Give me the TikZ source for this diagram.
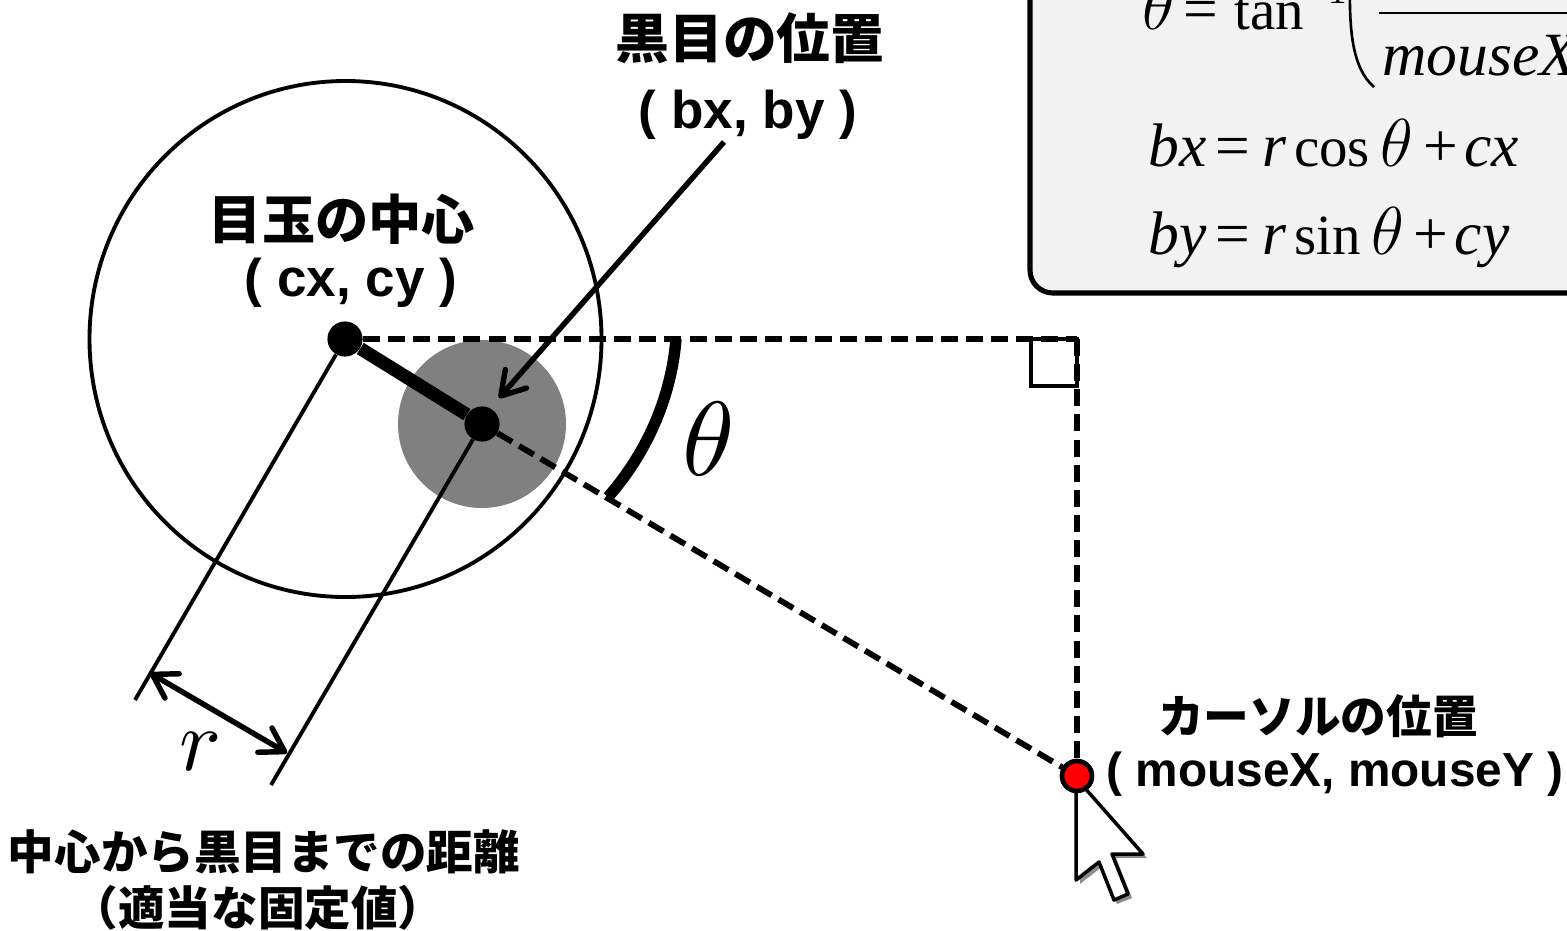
\documentclass[tikz,border=0pt]{standalone}
\usepackage{fontspec}
\setmainfont{Liberation Sans}
\newfontfamily\jpfont{Noto Sans CJK JP}
\newfontfamily\fmfont{Liberation Serif}
\usepackage{xcolor}
\usetikzlibrary{arrows.meta}
\definecolor{boxgray}{HTML}{F2F2F2}
\definecolor{ballgray}{HTML}{808080}
\newcommand{\fv}[1]{\textit{#1}}
\newcommand{\fn}[1]{{\fontsize{32.4pt}{32.4pt}\selectfont #1}}
\newcommand{\ft}{\scalebox{1.55}{$\theta$}}
\tikzset{
  dotmark/.style={circle,fill=black,minimum size=20pt,inner sep=0pt},
  redmark/.style={circle,draw=black,fill=red,line width=2.6pt,minimum size=17pt,inner sep=0pt},
  dashline/.style={line width=3.3pt,dash pattern=on 9.7pt off 4.6pt},
  thinline/.style={line width=2.2pt},
  jplabel/.style={inner sep=0pt,font={\jpfont\bfseries\fontsize{#1}{#1}\selectfont}},
  enlabel/.style={inner sep=0pt,font={\bfseries\fontsize{#1}{#1}\selectfont}},
  formula/.style={inner sep=0pt,anchor=base west,font={\fmfont\fontsize{35pt}{35pt}\selectfont}},
  barb/.style={line width=3.1pt,line cap=round,{Straight Barb[round,length=13pt,width=16pt]}-{Straight Barb[round,length=13pt,width=16pt]}}
}
\begin{document}
\begin{tikzpicture}[x=0.02cm,y=-0.02cm]
  \useasboundingbox (0,0) rectangle (1567,930);
  \clip (0,0) rectangle (1567,930);
  % formula box
  \draw[fill=boxgray,line width=2.9pt,rounded corners=13pt] (1030,-80) rectangle (1640,293);
  \node[formula] (tanline) at (1142,29) {\ft\kern5pt=\kern9pt\fn{tan}};
  \node[formula,font={\fmfont\fontsize{21pt}{21pt}\selectfont}] (tanexp) at (1307,3) {−1};
  \draw[line width=1.5pt] (1350,-20) .. controls (1349,30) and (1352,68) .. (1374,87);
  \draw[line width=1.5pt] (1379,13) -- (1600,13);
  \node[formula] (denom) at (1382,75) {\fv{mouseX}};
  \node[formula] (bxline) at (1148,166) {\fv{bx}\kern5pt=\kern7.4pt\fv{r}\kern4pt\fn{cos}\kern6pt\ft\kern5.8pt+\kern3.6pt\fv{cx}};
  \node[formula] (byline) at (1148,254) {\fv{by}\kern5pt=\kern7.4pt\fv{r}\kern4pt\fn{sin}\kern6pt\ft\kern5.8pt+\kern3.6pt\fv{cy}};
  % eye
  \draw[thinline] (345.5,339) ellipse [x radius=256,y radius=258];
  \fill[ballgray] (482,424) circle (84);
  \node[dotmark] (centre) at (345,339) {};
  \node[dotmark] (black) at (482,424) {};
  \node[redmark] (mouse) at (1077,776) {};
  \coordinate (corner) at (1077,339);
  % lines
  \draw[line width=7.5pt] (centre) -- (black);
  \draw[dashline] (centre) -- (corner);
  \draw[dashline] (corner) -- (mouse);
  \draw[dashline] (black) -- (mouse);
  \draw[line width=2pt] (1031,339) rectangle (1077,386);
  \draw[line width=6.5pt] (676,339) .. controls (671,400) and (645,455) .. (608,497);
  \node[scale=6] (thetalabel) at (709,439) {$\theta$};
  % r
  \coordinate (rleft) at (135,700);
  \coordinate (rright) at (271,785);
  \coordinate (rstart) at (150,673);
  \coordinate (rend) at (287,753);
  \draw[thinline] (centre) -- (rleft);
  \draw[thinline] (black) -- (rright);
  \draw[barb] (rstart) -- (rend);
  \node[scale=5] (rlabel) at (201,752) {$r$};
  % black eye arrow
  \coordinate (bxstart) at (724,142);
  \coordinate (bxend) at (499,398);
  \draw[line width=3.1pt,-{Straight Barb[round,length=13pt,width=16pt]}] (bxstart) -- (bxend);
  % cursor
  \fill[black!45] (1080,781) -- (1080,884) -- (1103,866) -- (1117,904) -- (1132,898) -- (1116,858) -- (1147,858) -- cycle;
  \draw[fill=white,line width=2pt,line join=round] (1076,778) -- (1076,880) -- (1099,862) -- (1114,900) -- (1128,894) -- (1112,854) -- (1143,854) -- cycle;
  \node[redmark] (mousetop) at (mouse) {};
  % labels
  \node[jplabel=30.6pt] (blackjp) at (750,38) {黒目の位置};
  \node[enlabel=30.2pt] (blacken) at (748,115) {( bx, by )};
  \node[jplabel=30.3pt] (centrejp) at (342,219) {目玉の中心};
  \node[enlabel=30.2pt] (centreen) at (351,283) {( cx, cy )};
  \node[jplabel=26pt] (mousejp) at (1318,716) {カーソルの位置};
  \node[enlabel=27.2pt] (mouseen) at (1335,774) {( mouseX, mouseY )};
  \node[jplabel=26.5pt] (distjp) at (264,852) {中心から黒目までの距離};
  \node[jplabel=26.5pt] (fixjp) at (258,908) {（適当な固定値）};
\end{tikzpicture}
\end{document}
